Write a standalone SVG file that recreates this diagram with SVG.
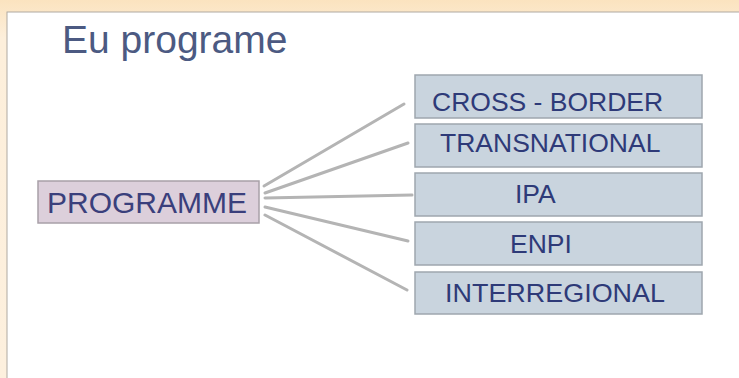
<svg xmlns="http://www.w3.org/2000/svg" width="739" height="378" viewBox="0 0 739 378">
<style>
.box{fill:#c9d4de;stroke:#9ea6ae;stroke-width:1.5}
.lbl{font-family:"Liberation Sans",Arial,sans-serif;font-size:26.5px;fill:#2e3a78}
.con{stroke:#b4b4b4;stroke-width:3;stroke-linecap:round;fill:none}
</style>
<defs>
<linearGradient id="bg" x1="0" y1="0" x2="0" y2="1">
<stop offset="0" stop-color="#fbe3bf"/>
<stop offset="0.1" stop-color="#fdefdb"/>
<stop offset="1" stop-color="#fdf0de"/>
</linearGradient>
</defs>
<rect x="0" y="0" width="739" height="378" fill="url(#bg)"/>
<rect x="7" y="12" width="740" height="370" fill="#ffffff" stroke="#b0aaa2" stroke-width="1"/>
<text x="62" y="53" font-family="'Liberation Sans',Arial,sans-serif" font-size="39" fill="#4c5a82">Eu programe</text>
<g id="connectors">
<line class="con" x1="264" y1="186" x2="404" y2="104"/>
<line class="con" x1="265" y1="193" x2="408" y2="143"/>
<line class="con" x1="265" y1="198" x2="412" y2="195"/>
<line class="con" x1="265" y1="207" x2="408" y2="241"/>
<line class="con" x1="265" y1="215" x2="407" y2="290"/>
</g>
<g id="programme">
<rect x="38" y="181" width="221" height="42" fill="#dccfdb" stroke="#a8a0a8" stroke-width="1.5"/>
<text x="47" y="213" font-family="'Liberation Sans',Arial,sans-serif" font-size="30" fill="#3a3f7c">PROGRAMME</text>
</g>
<g id="cross-border">
<rect class="box" x="415" y="75" width="287" height="43"/>
<text class="lbl" x="432" y="111">CROSS - BORDER</text>
</g>
<g id="transnational">
<rect class="box" x="415" y="124" width="287" height="43"/>
<text class="lbl" x="440" y="152">TRANSNATIONAL</text>
</g>
<g id="ipa">
<rect class="box" x="415" y="173" width="287" height="43"/>
<text class="lbl" x="515" y="203">IPA</text>
</g>
<g id="enpi">
<rect class="box" x="415" y="222" width="287" height="43"/>
<text class="lbl" x="510" y="253">ENPI</text>
</g>
<g id="interregional">
<rect class="box" x="415" y="272" width="287" height="42"/>
<text class="lbl" x="445" y="302" textLength="220" lengthAdjust="spacingAndGlyphs">INTERREGIONAL</text>
</g>
</svg>
